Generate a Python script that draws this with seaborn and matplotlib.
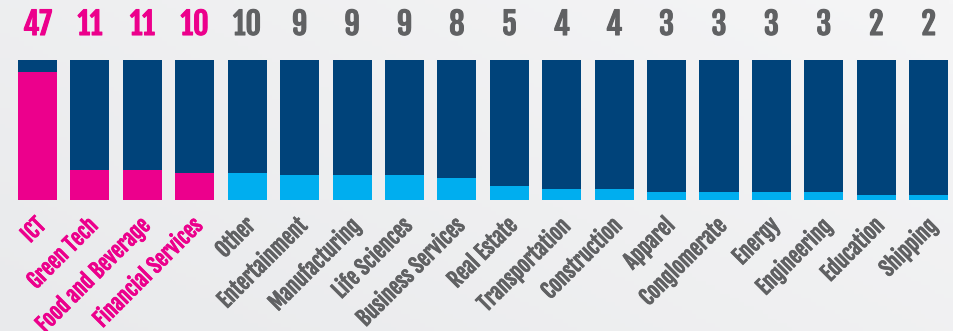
import matplotlib
matplotlib.use("Agg")
import matplotlib.pyplot as plt
import matplotlib.transforms as mtransforms
import matplotlib.patheffects as pe
from matplotlib import font_manager
import numpy as np
import seaborn as sns
import pandas as pd

categories = ["ICT", "Green Tech", "Food and Beverage", "Financial Services", "Other",
              "Entertainment", "Manufacturing", "Life Sciences", "Business Services",
              "Real Estate", "Transportation", "Construction", "Apparel", "Conglomerate",
              "Energy", "Engineering", "Education", "Shipping"]
values = [47, 11, 11, 10, 10, 9, 9, 9, 8, 5, 4, 4, 3, 3, 3, 3, 2, 2]
highlighted = [True, True, True, True] + [False] * 14
scale_max = 51.3

PINK = "#EC008C"
DARK = "#00437A"
LIGHT = "#00AEEF"
GRAY = "#606163"

sns.set_theme(style="white")
names = {f.name for f in font_manager.fontManager.ttflist}
if "Fjalla One" in names:
    FONT = dict(family=["Fjalla One", "DejaVu Sans"])
else:
    FONT = dict(family=["DejaVu Sans"], weight="bold", stretch="condensed")

df = pd.DataFrame({"category": categories, "value": values,
                   "full": [scale_max] * len(values)})
bar_colors = [PINK if h else LIGHT for h in highlighted]
txt_colors = [PINK if h else GRAY for h in highlighted]

fig = plt.figure(figsize=(9.54, 3.31), dpi=100, facecolor="#EFF0F1")

# subtle background gradient
bg = fig.add_axes([0, 0, 1, 1], zorder=-10)
gx = np.linspace(0, 1, 200)[None, :]
gy = np.linspace(0, 1, 80)[:, None]
g = 0.6 * gx + 0.4 * gy
c0 = np.array([0xE9, 0xEA, 0xEC]) / 255
c1 = np.array([0xF5, 0xF5, 0xF6]) / 255
img = c0[None, None, :] + (c1 - c0)[None, None, :] * g[:, :, None]
bg.imshow(img, aspect="auto", origin="lower", extent=[0, 1, 0, 1])
bg.set_axis_off()

ax = fig.add_axes([11.3 / 954, 1 - 200 / 331, 943.6 / 954, 140 / 331])
ax.set_facecolor("none")

sns.barplot(data=df, x="category", y="full", color=DARK, width=0.745,
            saturation=1, linewidth=0, ax=ax, zorder=1)
sns.barplot(data=df, x="category", y="value", hue="category",
            palette=bar_colors, legend=False, width=0.745,
            saturation=1, linewidth=0, ax=ax, zorder=2)

ax.set_xlim(-0.5, len(categories) - 0.5)
ax.set_ylim(0, scale_max)
ax.set_xlabel("")
ax.set_ylabel("")
ax.set_yticks([])
ax.set_xticks([])
for s in ax.spines.values():
    s.set_visible(False)

trans = mtransforms.blended_transform_factory(ax.transData, ax.transAxes)
for i, (v, c) in enumerate(zip(values, txt_colors)):
    ax.text(i, 1.25, str(v), transform=trans, ha="center", va="center",
            fontsize=22, color=c, clip_on=False,
            path_effects=[pe.withStroke(linewidth=0.8, foreground=c)], **FONT)
for i, (lab, c) in enumerate(zip(categories, txt_colors)):
    ax.text(i - 0.06, -0.1, lab, transform=trans, ha="right", va="top",
            rotation=45, rotation_mode="anchor", fontsize=15, color=c,
            clip_on=False,
            path_effects=[pe.withStroke(linewidth=0.5, foreground=c)], **FONT)

fig.savefig("out.png", dpi=100, facecolor=fig.get_facecolor())
